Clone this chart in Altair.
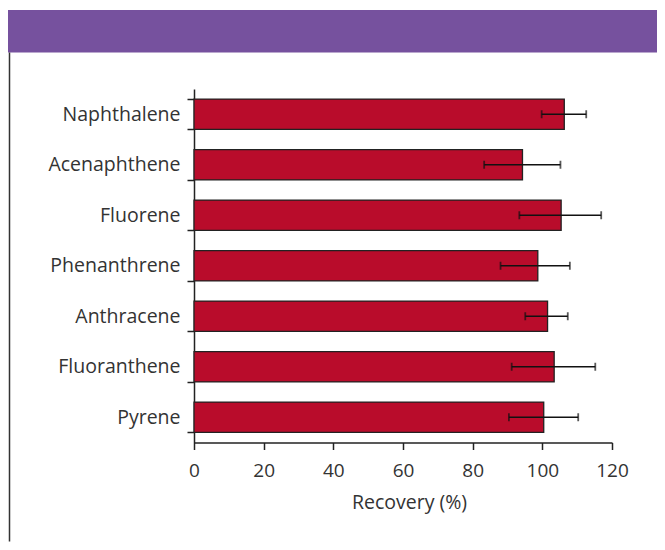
import altair as alt
import pandas as pd

compounds = ["Naphthalene", "Acenaphthene", "Fluorene", "Phenanthrene",
             "Anthracene", "Fluoranthene", "Pyrene"]
recovery = [106.3, 94.3, 105.4, 98.7, 101.5, 103.4, 100.4]
err_low = [99.8, 83.3, 93.4, 88.0, 95.1, 91.2, 90.4]
err_high = [112.6, 105.2, 116.9, 107.9, 107.3, 115.2, 110.3]
x_ticks = [0, 20, 40, 60, 80, 100, 120]

df = pd.DataFrame({"compound": compounds, "recovery": recovery,
                   "lo": err_low, "hi": err_high})

FONT = "Open Sans"
TXT = "#333333"
W, H = 418, 353.5
PL, PT, PR, PB = 186, 81, 45, 99

ysc = alt.Scale(domain=compounds, paddingInner=0.4, paddingOuter=0.2)
xsc = alt.Scale(domain=[0, 120], nice=False)

bars = alt.Chart(df).mark_bar(color="#B90C2B", stroke="#222222", strokeWidth=1.3).encode(
    y=alt.Y("compound:N", scale=ysc, sort=compounds, title=None,
            axis=alt.Axis(tickBand="extent", tickSize=7, tickColor="#222222",
                          domainColor="#222222", domainWidth=1.5, tickWidth=1.5,
                          labelFont=FONT, labelFontSize=19.5, labelColor=TXT,
                          labelPadding=7, grid=False)),
    x=alt.X("recovery:Q", scale=xsc, title="Recovery (%)",
            axis=alt.Axis(values=x_ticks, tickSize=7, tickColor="#222222",
                          domainColor="#222222", domainWidth=1.5, tickWidth=1.5,
                          grid=False, labelFlush=False, labelFont=FONT,
                          labelFontSize=19, labelColor=TXT, labelPadding=12,
                          titleFont=FONT, titleFontSize=19.5,
                          titleFontWeight="normal", titleColor=TXT,
                          titlePadding=13, titleX=W / 2 + 6)),
)

err = alt.Chart(df).mark_rule(color="#111111", strokeWidth=1.5).encode(
    y=alt.Y("compound:N", scale=ysc, sort=compounds),
    x=alt.X("lo:Q", scale=xsc),
    x2="hi:Q",
)
cap_lo = alt.Chart(df).mark_tick(color="#111111", orient="vertical", size=8, thickness=1.8).encode(
    y=alt.Y("compound:N", scale=ysc, sort=compounds),
    x=alt.X("lo:Q", scale=xsc),
)
cap_hi = alt.Chart(df).mark_tick(color="#111111", orient="vertical", size=8, thickness=1.8).encode(
    y=alt.Y("compound:N", scale=ysc, sort=compounds),
    x=alt.X("hi:Q", scale=xsc),
)

band = alt.Chart(pd.DataFrame({"a": [0]})).mark_rect(color="#76519E").encode(
    x=alt.value(-PL), x2=alt.value(W + PR),
    y=alt.value(-79), y2=alt.value(-36.5),
)
border = alt.Chart(pd.DataFrame({"a": [0]})).mark_rule(color="#333333", strokeWidth=1.5).encode(
    x=alt.value(-184.5), y=alt.value(-36.5), y2=alt.value(H + PB),
)

chart = alt.layer(bars, band, border, err, cap_lo, cap_hi).properties(
    width=W, height=H,
    background="white",
    autosize=alt.AutoSizeParams(type="none"),
    padding={"left": PL, "top": PT, "right": PR, "bottom": PB},
).configure_view(strokeWidth=0, stroke=None).configure_axis(grid=False)

chart.save("out.html", embed_options={"renderer": "svg", "actions": False})
